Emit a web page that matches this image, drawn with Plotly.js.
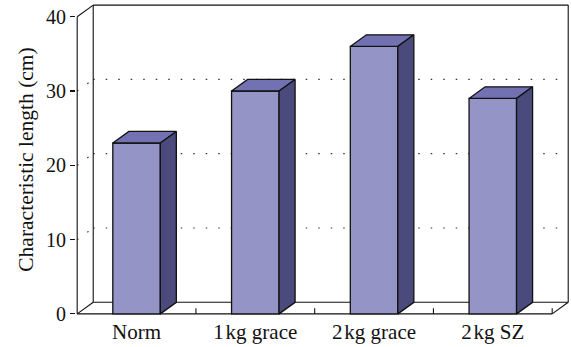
<!DOCTYPE html>
<html>
<head>
<meta charset="utf-8">
<script src="https://cdn.plot.ly/plotly-3.0.1.min.js"></script>
<style>
  html, body { margin: 0; padding: 0; background: #ffffff; }
  #chart { width: 571px; height: 347px; }
</style>
</head>
<body>
<div id="chart"></div>
<script>
// Characteristic length per group (cm)
const categories = ['Norm', '1\u200Akg grace', '2\u200Akg grace', '2\u200Akg SZ'];
const lengths = [23, 30, 36, 29];
const yTicks = [0, 10, 20, 30, 40];
const gridValues = [10, 20, 30];

// Pseudo-3D look: depth offset of the box and bars, in axis units
const DX = 0.135;    // along the category axis
const DY = 1.56;     // along the value axis
const HALF = 0.2;    // half bar width
const Y_MAX = 40;
const X0 = -0.5, X1 = categories.length - 0.5;

const FRONT = '#9494c7';
const TOP = '#7272b3';
const SIDE = '#4a4a7c';
const EDGE = '#111111';
const FONT = 'Liberation Serif, Times New Roman, serif';

const xs = categories.map((_, i) => i);

const traces = [];

// Front faces of the bars
traces.push({
  type: 'bar',
  x: xs,
  y: lengths,
  width: HALF * 2,
  marker: { color: FRONT, line: { color: EDGE, width: 1.3 } },
  hoverinfo: 'skip',
  showlegend: false
});

// Top and side faces, offset by the depth vector
lengths.forEach((v, i) => {
  traces.push({
    type: 'scatter', mode: 'lines',
    x: [i - HALF, i + HALF, i + HALF + DX, i - HALF + DX, i - HALF],
    y: [v, v, v + DY, v + DY, v],
    fill: 'toself', fillcolor: TOP,
    line: { color: EDGE, width: 1.3 },
    hoverinfo: 'skip', showlegend: false
  });
  traces.push({
    type: 'scatter', mode: 'lines',
    x: [i + HALF, i + HALF + DX, i + HALF + DX, i + HALF, i + HALF],
    y: [0, DY, v + DY, v, 0],
    fill: 'toself', fillcolor: SIDE,
    line: { color: EDGE, width: 1.3 },
    hoverinfo: 'skip', showlegend: false
  });
});

// Box: back wall, floor, side wall edges and dotted gridlines
const shapes = [];
function seg(x0, y0, x1, y1, extra) {
  shapes.push(Object.assign({
    type: 'line', xref: 'x', yref: 'y', layer: 'below',
    x0: x0, y0: y0, x1: x1, y1: y1,
    line: { color: EDGE, width: 1.1 }
  }, extra || {}));
}
gridValues.forEach(g => {
  const dot = { line: { color: '#333333', width: 1.2, dash: '1.5px,11px' } };
  seg(X0 + DX, g + DY, X1 + DX, g + DY, dot);
  seg(X0, g, X0 + DX, g + DY, dot);
});
// back wall
seg(X0 + DX, DY, X0 + DX, Y_MAX + DY);
seg(X1 + DX, DY, X1 + DX, Y_MAX + DY);
seg(X0 + DX, Y_MAX + DY, X1 + DX, Y_MAX + DY);
// side wall top edge and value axis line
seg(X0, Y_MAX, X0 + DX, Y_MAX + DY);
seg(X0, 0, X0, Y_MAX);
// floor
seg(X0, 0, X1, 0);
seg(X0 + DX, DY, X1 + DX, DY);
seg(X0, 0, X0 + DX, DY);
seg(X1, 0, X1 + DX, DY);
// category separators on the floor edge
for (let k = 0; k < categories.length; k++) {
  seg(k + 0.5, 0, k + 0.5, 0.75);
}

const layout = {
  width: 571, height: 347,
  margin: { l: 76, r: 1, t: 4, b: 32 },
  paper_bgcolor: '#ffffff',
  plot_bgcolor: '#ffffff',
  font: { family: FONT, size: 20, color: '#111111' },
  showlegend: false,
  xaxis: {
    range: [X0 - 0.01, X1 + DX + 0.015],
    tickmode: 'array', tickvals: xs, ticktext: categories,
    showgrid: false, zeroline: false, showline: false,
    ticks: '', tickfont: { family: FONT, size: 21, color: '#111111' },
    ticklabelstandoff: 2,
    fixedrange: true
  },
  yaxis: {
    range: [-0.15, Y_MAX + DY + 0.15],
    tickmode: 'array', tickvals: yTicks, ticktext: yTicks.map(String),
    showgrid: false, zeroline: false, showline: false,
    ticks: 'outside', ticklen: 5, tickwidth: 1.1, tickcolor: EDGE,
    tickfont: { family: FONT, size: 20, color: '#111111' },
    title: { text: 'Characteristic length (cm)', font: { family: FONT, size: 21.5, color: '#111111' }, standoff: 6 },
    fixedrange: true
  },
  shapes: shapes
};

Plotly.newPlot('chart', traces, layout, { staticPlot: true, displayModeBar: false });
</script>
</body>
</html>
